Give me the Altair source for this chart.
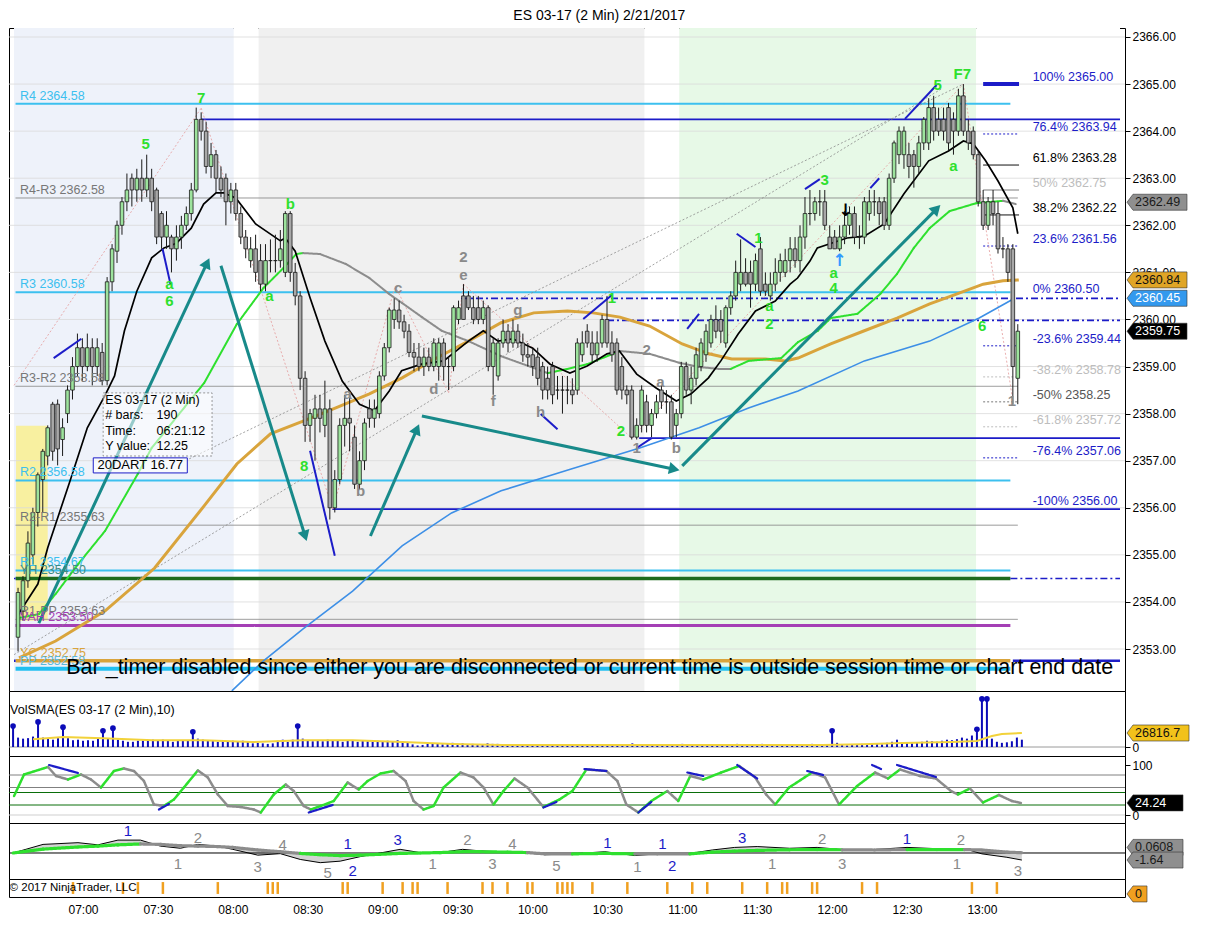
import math
import altair as alt
import pandas as pd

FONT = "Liberation Sans"
W = 1116
H_MAIN, H_VOL, H_STO, H_MACD, H_TIM = 663, 65, 67, 56, 18
X_MIN, X_MAX = 390.37, 837.3         # minutes after midnight shown
P_MIN, P_MAX = 2352.108, 2366.191

# ---------------- price bars (2 min, first bar 06:32) ----------------
FIRST_BAR = 392
BAR_STEP = 2
OPEN = [
 2353.25,2353.80,2354.45,2355.00,2355.90,2356.60,2357.10,2358.20,2358.20,2357.45,
 2358.00,2358.50,2359.00,2359.40,2359.00,2359.40,2359.00,2359.30,2358.70,2360.80,
 2361.45,2362.00,2362.50,2363.00,2362.75,2363.00,2362.75,2363.00,2362.75,2362.25,
 2361.75,2361.75,2361.50,2361.75,2362.00,2362.25,2362.75,2364.25,2364.00,2363.25,
 2363.50,2363.00,2363.00,2362.50,2362.75,2362.25,2361.75,2361.25,2361.50,2361.25,
 2360.75,2361.25,2361.25,2361.25,2361.00,2362.25,2361.00,2360.50,2358.75,2357.75,
 2357.90,2358.10,2357.75,2358.10,2356.00,2356.60,2357.75,2357.90,2357.50,2356.50,
 2357.00,2358.10,2357.90,2358.00,2358.80,2359.40,2360.00,2360.20,2359.95,2359.75,
 2359.30,2359.20,2359.00,2359.20,2359.00,2359.00,2359.50,2359.00,2359.00,2360.00,
 2360.50,2360.50,2360.25,2360.25,2360.00,2360.25,2359.00,2358.80,2359.50,2359.75,
 2359.50,2359.75,2359.50,2359.25,2359.25,2359.20,2359.00,2358.75,2359.00,2358.50,
 2358.50,2358.50,2358.50,2358.50,2359.25,2359.75,2359.50,2359.25,2359.50,2360.00,
 2359.50,2359.50,2359.00,2358.50,2358.50,2357.50,2357.75,2358.25,2357.75,2358.00,
 2358.50,2358.25,2358.25,2357.75,2358.00,2359.00,2358.50,2358.75,2359.00,2359.25,
 2359.50,2360.00,2360.00,2359.50,2360.25,2360.50,2360.75,2361.00,2361.00,2360.75,
 2361.50,2360.75,2360.50,2360.75,2361.00,2361.00,2361.25,2361.50,2361.25,2361.75,
 2362.25,2362.25,2362.50,2362.50,2361.75,2361.75,2361.50,2361.75,2362.00,2362.25,
 2361.75,2361.75,2362.25,2362.50,2362.50,2362.50,2362.00,2363.00,2363.50,2363.50,
 2363.50,2363.50,2363.25,2363.75,2363.75,2364.50,2364.25,2364.25,2364.50,2364.25,
 2364.00,2364.75,2364.00,2364.00,2363.50,2362.50,2362.00,2362.50,2362.25,2361.50,
 2361.50,2361.50,2358.75]
HIGH = [
 2354.30,2354.55,2355.50,2356.00,2356.75,2357.25,2357.75,2358.25,2358.30,2357.90,
 2358.60,2359.20,2359.70,2359.60,2359.70,2359.60,2359.60,2359.50,2360.90,2361.60,
 2362.10,2362.60,2363.10,2363.10,2363.20,2363.40,2363.50,2363.20,2362.80,2362.30,
 2362.30,2361.80,2362.00,2362.20,2362.40,2362.90,2364.50,2364.40,2364.20,2363.75,
 2363.60,2363.25,2363.10,2362.90,2362.90,2362.40,2361.90,2361.75,2361.80,2361.60,
 2361.60,2361.70,2361.80,2361.90,2362.30,2362.30,2361.20,2360.60,2358.90,2358.10,
 2358.40,2358.40,2358.70,2358.30,2356.80,2357.90,2358.40,2358.50,2357.75,2357.20,
 2357.90,2358.30,2358.30,2358.90,2359.50,2360.25,2360.45,2360.40,2360.10,2359.90,
 2359.50,2359.50,2359.40,2359.40,2359.60,2359.60,2359.60,2359.20,2360.30,2360.40,
 2360.75,2360.60,2360.50,2360.50,2360.40,2360.30,2359.60,2359.60,2360.00,2359.90,
 2360.00,2359.90,2359.70,2359.50,2359.40,2359.40,2359.10,2359.00,2359.10,2358.80,
 2358.80,2358.80,2358.75,2359.60,2359.75,2359.90,2359.75,2359.75,2360.10,2360.50,
 2359.75,2359.60,2359.20,2358.60,2358.60,2357.90,2358.60,2358.40,2358.10,2358.40,
 2358.60,2358.50,2358.40,2358.10,2359.10,2359.10,2359.00,2359.40,2359.60,2359.90,
 2360.10,2360.30,2360.20,2360.30,2360.60,2361.25,2361.70,2361.30,2361.25,2361.40,
 2361.75,2361.00,2361.00,2361.30,2361.40,2361.50,2361.75,2361.75,2362.00,2362.60,
 2362.75,2362.60,2362.75,2362.75,2362.00,2361.90,2362.00,2362.30,2362.40,2362.40,
 2362.00,2362.60,2362.75,2362.75,2362.60,2362.60,2363.10,2363.80,2364.10,2364.10,
 2363.75,2363.60,2363.90,2364.30,2364.70,2364.75,2364.50,2364.50,2364.60,2364.40,
 2364.90,2365.00,2364.25,2364.10,2363.60,2362.75,2362.60,2362.75,2362.50,2361.75,
 2361.60,2361.60,2359.90]
LOW = [
 2352.95,2353.60,2354.30,2354.80,2355.60,2355.90,2356.90,2357.00,2356.90,2357.10,
 2357.80,2358.30,2358.80,2358.70,2358.90,2358.60,2358.80,2358.60,2358.60,2360.60,
 2361.20,2361.80,2362.30,2362.40,2362.50,2362.50,2362.60,2362.30,2361.60,2361.50,
 2361.50,2361.00,2361.25,2361.50,2361.90,2362.10,2362.70,2363.80,2363.10,2363.00,
 2362.70,2362.60,2362.00,2362.25,2362.10,2361.60,2361.30,2361.10,2360.80,2360.60,
 2360.60,2361.00,2361.00,2361.10,2360.90,2360.80,2360.30,2358.50,2357.40,2357.40,
 2357.00,2357.60,2357.50,2355.75,2355.90,2356.50,2357.30,2357.20,2356.40,2356.40,
 2356.80,2357.70,2357.70,2357.90,2358.70,2359.30,2359.80,2359.80,2359.60,2359.20,
 2358.90,2358.90,2358.80,2358.90,2358.90,2358.70,2358.70,2358.50,2358.90,2359.90,
 2360.00,2360.20,2359.90,2359.90,2359.90,2358.90,2358.40,2358.70,2359.40,2359.30,
 2359.40,2359.40,2359.10,2359.00,2358.80,2358.60,2358.30,2358.30,2358.20,2358.30,
 2358.00,2358.20,2358.20,2358.40,2359.10,2359.40,2359.10,2359.10,2359.40,2359.40,
 2359.10,2358.40,2358.30,2358.20,2357.45,2357.45,2357.60,2357.60,2357.50,2357.90,
 2358.10,2358.00,2357.45,2357.50,2357.90,2358.40,2358.20,2358.60,2358.90,2359.10,
 2359.40,2359.60,2359.50,2359.40,2360.10,2360.40,2360.60,2360.70,2360.25,2360.60,
 2360.50,2360.50,2360.40,2360.60,2360.80,2360.90,2361.00,2361.10,2361.00,2361.50,
 2362.00,2362.10,2362.20,2361.90,2361.50,2361.50,2361.45,2361.60,2361.80,2361.60,
 2361.50,2361.60,2362.10,2362.20,2362.00,2361.90,2361.90,2362.90,2363.30,2363.20,
 2363.00,2362.80,2363.10,2363.60,2363.60,2363.80,2363.90,2363.80,2363.60,2363.50,
 2363.90,2363.90,2363.60,2363.40,2362.40,2361.90,2361.90,2362.00,2361.40,2361.30,
 2360.80,2358.20,2358.20]
CLOSE = [
 2354.20,2354.45,2355.25,2355.90,2356.70,2357.20,2357.70,2357.20,2357.25,2357.70,
 2358.50,2359.00,2359.40,2359.00,2359.40,2359.00,2359.40,2358.70,2360.80,2361.50,
 2362.00,2362.50,2362.75,2362.75,2363.00,2362.75,2363.00,2362.50,2361.75,2361.75,
 2362.00,2361.50,2361.75,2362.00,2362.25,2362.75,2364.25,2364.00,2363.25,2363.50,
 2363.00,2362.75,2362.50,2362.75,2362.25,2361.75,2361.50,2361.50,2361.00,2360.75,
 2361.25,2361.25,2361.25,2361.50,2362.25,2361.00,2360.50,2358.75,2357.75,2358.00,
 2358.10,2357.90,2358.10,2356.00,2356.60,2357.75,2357.90,2357.80,2356.50,2357.00,
 2357.80,2357.90,2358.10,2358.80,2359.40,2360.20,2360.20,2359.95,2359.75,2359.30,
 2359.20,2359.00,2359.20,2359.00,2359.50,2359.50,2359.00,2359.00,2360.25,2360.25,
 2360.00,2360.25,2360.00,2360.00,2360.25,2359.00,2359.50,2359.50,2359.75,2359.50,
 2359.75,2359.50,2359.25,2359.20,2359.00,2358.75,2358.50,2358.50,2358.40,2358.50,
 2358.50,2358.50,2358.40,2359.50,2359.50,2359.50,2359.25,2359.50,2360.00,2359.50,
 2359.25,2358.50,2358.50,2358.40,2357.50,2357.75,2358.50,2357.75,2358.00,2358.25,
 2358.25,2358.25,2357.50,2358.00,2359.00,2358.50,2358.75,2359.25,2359.50,2359.75,
 2360.00,2359.75,2359.75,2360.25,2360.50,2361.00,2361.00,2360.75,2360.75,2361.25,
 2360.60,2360.60,2360.75,2361.00,2361.25,2361.25,2361.50,2361.25,2361.75,2362.25,
 2362.25,2362.50,2362.50,2362.00,2361.50,2361.50,2361.75,2362.00,2362.25,2361.75,
 2361.75,2362.50,2362.50,2362.50,2362.25,2362.00,2363.00,2363.75,2364.00,2364.00,
 2363.25,2363.25,2363.75,2364.25,2364.50,2364.00,2364.00,2364.00,2363.75,2364.00,
 2364.75,2364.00,2363.75,2363.50,2362.50,2362.00,2362.50,2362.25,2361.50,2361.50,
 2361.00,2359.00,2359.75]
VOLUME_K = [
 40,18,16,17,20,48,18,16,14,17, 38,17,13,14,12,13,12,16,31,17,
 36,14,12,10,10,12,12,13,14,12, 14,12,10,12,13,12,29,16,14,12,
 12,10,12,11,12,10,12,10,7,8,   7,6,7,12,14,10,14,40,16,12,
 11,12,11,14,12,13,10,12,13,10, 12,11,10,12,11,12,10,13,11,9,
 5,3,4,6,7,6,5,6,8,6,           7,5,6,5,4,7,6,6,5,4,
 5,4,4,5,4,5,4,3,5,4,           3,4,3,5,4,4,3,4,5,4,
 4,5,3,4,7,4,5,4,3,4,           3,4,5,4,6,4,5,4,5,4,
 5,3,4,5,4,6,5,4,3,4,           6,4,3,4,5,4,5,3,4,5,
 6,4,4,5,31,8,4,3,4,5,          6,5,7,6,5,8,10,14,9,8,
 7,9,10,12,11,10,12,14,13,15,   18,16,22,34,92,92,16,10,8,9,
 11,18,14]
VOL_DOT_BARS = [0, 5, 10, 18, 20, 36, 57, 164, 193, 194, 195]
VSMA_T = [400, 412, 428, 448, 468, 488, 508, 528, 548, 568, 588, 628, 668, 688, 716, 732, 748, 768, 778, 784, 788, 796]
VSMA_V = [15, 19, 17, 13, 13, 9.5, 13, 13, 9.5, 6, 4, 4, 4, 4, 4, 5.5, 7.6, 9.5, 11.5, 21, 25, 26.8]

# ---------------- moving averages on the price panel ----------------
EMA_T = [392, 393, 400, 404, 413, 420, 427, 431, 435, 440, 446, 451, 456, 462, 467, 472, 475, 480, 488,
         498, 500, 504, 510, 516, 523, 530, 536, 542, 547, 555, 564, 574, 580, 586, 592, 600, 607, 615,
         622, 630, 635, 642, 650, 658, 664, 671, 676, 683, 690, 698, 704, 707, 712, 715, 727, 734, 742,
         750, 760, 768, 774, 778, 783, 788, 794, 796]
EMA_P = [2353.70, 2353.81, 2354.38, 2355.15, 2356.57, 2357.70, 2358.37, 2358.80, 2359.76, 2360.60,
         2361.31, 2361.52, 2361.62, 2361.94, 2362.45, 2362.69, 2362.69, 2362.58, 2362.03, 2361.67,
         2361.73, 2361.45, 2360.46, 2359.54, 2358.69, 2358.20, 2358.06, 2358.48, 2358.91, 2359.05,
         2359.12, 2359.54, 2359.76, 2359.54, 2359.59, 2359.39, 2359.05, 2358.86, 2359.01, 2359.27,
         2359.33, 2358.84, 2358.54, 2358.27, 2358.42, 2358.76, 2359.12, 2359.69, 2360.18, 2360.39,
         2360.75, 2360.88, 2361.24, 2361.52, 2361.73, 2361.77, 2362.03, 2362.67, 2363.37, 2363.58,
         2363.79, 2363.73, 2363.37, 2362.94, 2362.37, 2361.82]
SMA_T = [392.4, 400.4, 407.2, 416.4, 427.2, 440.4, 446.0, 467.2, 480.4, 491.2, 499.2, 504.4, 507.2,
         514.0, 524.4, 534.0, 542.0, 547.2, 555.2, 563.2, 574.0, 587.2, 600.4, 606.0, 614.0, 622.0,
         635.2, 647.2, 659.2, 667.2, 675.2, 680.0, 687.2, 700.4, 707.2, 715.2, 720.4, 731.2, 740.4,
         747.2, 754.0, 760.4, 768.4, 779.2, 790.0, 795.2]
SMA_P = [2353.66, 2353.74, 2354.17, 2354.81, 2355.51, 2356.72, 2357.27, 2358.65, 2359.90, 2360.67,
         2361.09, 2361.39, 2361.41, 2361.39, 2361.18, 2360.88, 2360.54, 2360.35, 2360.05, 2359.76,
         2359.54, 2359.22, 2358.97, 2358.86, 2358.95, 2359.05, 2359.33, 2359.27, 2359.08, 2358.99,
         2358.95, 2358.95, 2359.12, 2359.18, 2359.52, 2359.76, 2360.03, 2360.12, 2360.54, 2360.97,
         2361.52, 2361.94, 2362.30, 2362.47, 2362.52, 2362.45]
GOLD_T = [392.4, 407.2, 427.2, 447.2, 467.2, 480.4, 494.0, 507.2, 520.4, 534.0, 547.2, 560.4, 574.0,
          587.2, 600.4, 614.0, 624.4, 635.2, 647.2, 660.4, 671.2, 680.4, 694.0, 702.0, 707.2, 720.4,
          734.0, 747.2, 760.4, 771.2, 782.0, 790.0, 796.4]
GOLD_P = [2352.81, 2353.17, 2353.81, 2354.72, 2356.04, 2356.93, 2357.57, 2357.84, 2358.12, 2358.42,
          2358.76, 2359.16, 2359.54, 2359.93, 2360.14, 2360.18, 2360.14, 2360.05, 2359.86, 2359.48,
          2359.27, 2359.16, 2359.16, 2359.12, 2359.18, 2359.48, 2359.76, 2360.03, 2360.33, 2360.54,
          2360.75, 2360.82, 2360.84]
BLUE_T = [478.4, 491.2, 507.2, 527.2, 547.2, 567.2, 587.2, 615.2, 643.2, 667.2, 687.2, 707.2, 734.0, 760.4, 780.4, 794.0]
BLUE_P = [2352.11, 2352.75, 2353.43, 2354.23, 2355.19, 2355.89, 2356.36, 2356.82, 2357.27, 2357.70,
          2358.12, 2358.48, 2359.12, 2359.54, 2360.03, 2360.43]

# ---------------- levels ----------------
PIVOT_NAMES = ["R4", "R4-R3", "R3", "R3-R2", "R2", "R2-R1", "R1", "YH", "R1-PP", "VAH", "YC", "PP"]
PIVOT_VALS = [2364.58, 2362.58, 2360.58, 2358.58, 2356.58, 2355.63, 2354.67, 2354.50, 2353.63, 2353.50, 2352.75, 2352.58]
PIVOT_KIND = ["R", "M", "R", "M", "R", "M", "R", "YH", "M", "VAH", "YC", "PP"]
SWING_P = [2364.25, 2357.48, 2355.97]
SWING_T = [466.0, 643.0, 519.0]
DASHDOT_P = [2360.45, 2359.98]
DASHDOT_T = [571.0, 630.0]
FIB_PCT = ["100%", "76.4%", "61.8%", "50%", "38.2%", "23.6%", "0%", "-23.6%", "-38.2%", "-50%", "-61.8%", "-76.4%", "-100%"]
FIB_P = [2365.00, 2363.94, 2363.28, 2362.75, 2362.22, 2361.56, 2360.50, 2359.44, 2358.78, 2358.25, 2357.72, 2357.06, 2356.00]

# ---------------- drawings ----------------
AR_T0 = [400.4, 474.0, 534.4, 555.2, 660.4]
AR_P0 = [2353.55, 2361.14, 2355.40, 2357.95, 2356.89]
AR_T1 = [468.4, 508.0, 553.2, 657.2, 763.2]
AR_P1 = [2361.20, 2355.40, 2357.67, 2356.82, 2362.35]
NV_T0 = [406.4, 450.4, 510.0, 603.2, 620.4, 642.0, 662.4, 682.4, 710.0, 736.4, 750.4]
NV_P0 = [2359.18, 2361.50, 2357.21, 2357.99, 2360.01, 2357.27, 2359.80, 2361.82, 2362.77, 2362.79, 2364.26]
NV_T1 = [417.6, 453.6, 520.0, 610.0, 632.0, 648.0, 667.2, 690.0, 716.0, 740.0, 763.2]
NV_P1 = [2359.59, 2360.75, 2354.98, 2357.67, 2360.52, 2357.48, 2360.12, 2361.54, 2362.98, 2363.00, 2364.98]
ZZ_T = [390.4, 466.0, 519.2, 544.4, 566.0, 572.0, 640.0, 774.0, 794.0]
ZZ_P = [2358.60, 2364.49, 2355.97, 2360.71, 2358.44, 2360.75, 2357.48, 2365.00, 2358.27]
CH_T0 = [461.2, 390.4]
CH_P0 = [2357.04, 2352.88]
CH_T1 = [774.0, 765.2]
CH_P1 = [2365.00, 2364.90]

GREEN_TXT = ["5", "7", "a", "6", "b", "a", "8", "2", "1", "1", "a", "2", "3", "a", "4", "5", "F7", "a", "6"]
GREEN_T = [443.6, 466.0, 453.2, 453.2, 502.0, 493.6, 507.6, 635.6, 632.0, 691.2, 695.6, 695.6, 718.0,
           721.6, 721.6, 763.6, 773.6, 770.0, 781.6]
GREEN_P = [2363.73, 2364.70, 2360.75, 2360.39, 2362.45, 2360.50, 2356.89, 2357.63, 2360.46, 2361.73,
           2360.29, 2359.90, 2362.96, 2360.99, 2360.67, 2364.98, 2365.21, 2363.26, 2359.86]
GRAY_TXT = ["2", "e", "c", "a", "b", "d", "f", "g", "h", "2", "a", "1", "b", "1"]
GRAY_T = [572.0, 572.0, 545.6, 525.2, 530.4, 560.0, 584.0, 594.0, 603.2, 646.0, 651.6, 642.0, 658.0, 793.6]
GRAY_P = [2361.33, 2360.94, 2360.67, 2358.42, 2356.36, 2358.52, 2358.27, 2360.20, 2358.03, 2359.35,
          2358.67, 2357.27, 2357.27, 2358.27]

MAIN_TAG_P = [2362.49, 2360.84, 2360.45, 2359.75]

# ---------------- oscillators ----------------
STO_T = [392.4, 396.4, 406.0, 409.2, 414.0, 419.2, 423.2, 427.2, 432.4, 436.4,
         440.4, 444.4, 448.4, 452.4, 456.4, 460.4, 466.0, 470.0, 474.0, 478.0,
         483.2, 488.4, 491.2, 496.4, 501.2, 504.4, 508.4, 511.2, 515.2, 520.4,
         526.0, 530.4, 534.0, 539.2, 544.4, 549.2, 552.4, 556.4, 560.4, 564.4,
         571.2, 576.4, 580.4, 584.4, 588.4, 592.8, 598.0, 604.4, 610.8, 616.0,
         621.6, 629.6, 634.0, 637.6, 642.4, 647.6, 654.0, 658.4, 663.2, 668.4,
         675.6, 682.8, 689.2, 693.6, 697.2, 702.8, 712.0, 717.2, 722.8, 730.0,
         737.2, 742.4, 747.2, 755.2, 761.6, 767.6, 770.4, 775.2, 780.4, 786.8,
         792.0, 795.6]
STO_V = [38, 81, 96, 78, 71, 81, 71, 55, 88, 93,
         88, 68, 21, 18, 31, 55, 89, 75, 41, 18,
         16, 11, 5, 41, 61, 48, 18, 11, 18, 28,
         65, 51, 68, 83, 88, 68, 28, 11, 18, 55,
         85, 75, 55, 21, 48, 73, 55, 16, 31, 48,
         91, 88, 68, 21, 5, 28, 48, 28, 78, 71,
         85, 98, 75, 41, 21, 55, 85, 75, 21, 58,
         85, 73, 91, 78, 73, 48, 41, 53, 25, 40,
         28, 24]
STO_LEVELS = [80, 55, 45, 20, 0]
SD_T0 = [406.4, 450.4, 510.4, 604.4, 620.8, 642.4, 662.0, 682.0, 710.0, 736.0, 746.0]
SD_V0 = [100, 11, 5, 15, 92, 5, 85, 100, 88, 100, 100]
SD_T1 = [418.0, 454.4, 520.0, 609.6, 629.6, 647.6, 668.4, 690.0, 716.4, 739.6, 761.6]
SD_V1 = [84, 22, 20, 26, 88, 26, 78, 73, 80, 92, 76]

MACD_T = [392, 404, 418, 426, 434, 443, 451, 459, 466, 474, 480, 490, 499, 507, 515, 523, 531, 539, 547, 555,
          563, 572, 579, 590, 598, 605, 616, 629, 641, 650, 663, 672, 681, 690, 703, 714, 724, 737, 750, 762,
          773, 780, 790, 796]
MACD_V = [0, 2.0, 2.4, 1.9, 3.0, 3.0, 1.6, 1.1, 2.0, 1.6, 0.85, -0.5, -0.15, -1.5, -2.25, -1.9, -0.85, 0, 0.85, 0.1,
          0.1, 0.85, 0.5, 0.2, 0, -0.4, -0.2, 0.3, -0.6, -0.2, -0.1, 0.7, 1.3, 1.5, 1.1, 1.3, 0.8, 0.8, 1.3, 1.0,
          1.0, -0.2, -1.0, -1.64]
SIGNAL_V = [0, 0.9, 1.4, 1.6, 1.9, 2.1, 2.0, 1.7, 1.6, 1.5, 1.3, 0.7, 0.3, -0.1, -0.4, -0.6, -0.5, -0.3, -0.1, 0,
            0.1, 0.3, 0.3, 0.2, 0.1, -0.2, -0.2, -0.1, -0.2, -0.2, -0.2, 0.2, 0.45, 0.6, 0.75, 0.8, 0.75, 0.7, 0.8, 0.8,
            0.8, 0.7, 0.2, 0.06]
SIGNAL_STATE = "gggggkkkkkkkkgggggggggggkkggkkggggggkkggkkk"
MACD_LBL = ["1", "2", "1", "3", "4", "5", "1", "2", "3", "1", "2", "3", "4", "5", "1", "1", "1", "2", "3", "1",
            "2", "3", "1", "2", "1", "3"]
MACD_LBL_T = [438, 466, 458, 490, 500, 518, 526, 528, 546, 560, 574, 584, 592, 609.6, 630, 642, 652, 656, 684,
              696, 716, 724, 750, 771.6, 770, 794.4]
MACD_LBL_V = [5.1, 3.5, -2.55, -3.25, 1.85, -4.65, 2.1, -4.2, 3.0, -2.55, 3.0, -2.55, 2.1, -3.0, 2.3, -3.25,
              2.1, -3.0, 3.5, -2.55, 3.25, -2.55, 3.25, 3.0, -2.55, -4.2]
MACD_LBL_BLUE = [1, 0, 0, 0, 0, 0, 1, 1, 1, 0, 0, 0, 0, 0, 1, 0, 1, 1, 1, 0, 0, 0, 1, 0, 0, 0]

TIMER_BARS = [12, 22, 25, 30, 41, 51, 52, 53, 66, 67, 74, 78, 80, 81, 87, 94, 96, 99, 103, 104, 109, 110,
              111, 112, 116, 123, 131, 136, 139, 146, 151, 154, 155, 160, 161, 170, 173, 192, 197]

# ======================================================================
XS = alt.Scale(domain=[X_MIN, X_MAX], nice=False, zero=False)
PY = alt.Scale(domain=[P_MIN, P_MAX], nice=False, zero=False)
VY = alt.Scale(domain=[-17.2, 107.2], nice=False, zero=False)
SY = alt.Scale(domain=[-16, 118], nice=False, zero=False)
MY = alt.Scale(domain=[-6.05, 6.98], nice=False, zero=False)
TY = alt.Scale(domain=[0, 1], nice=False, zero=False)


def right_axis(values, fmt):
    return alt.Axis(orient="right", values=values, format=fmt, tickSize=5, tickColor="#000000",
                    labelFontSize=12, labelFont=FONT, labelColor="#000000", labelPadding=2,
                    domain=False, grid=False, title=None, labelOverlap=False)


AX_MAIN = right_axis(list(range(2353, 2367)), ".2f")
AX_VOL = right_axis([0], "d")
AX_STO = right_axis([0, 100], "d")


def xq(f):
    return alt.X(f"{f}:Q", scale=XS, axis=None)


def yq(f, sc, ax):
    return alt.Y(f"{f}:Q", scale=sc, axis=ax)


def ym(f):
    return yq(f, PY, AX_MAIN)


DASH = alt.Scale(domain=["s", "dot", "dd"], range=[[1, 0], [2, 2], [7, 3, 2, 3]])


def seg_layer(df, sc, ax, cap="butt"):
    return alt.Chart(df).mark_rule(strokeCap=cap).encode(
        x=xq("t0"), x2="t1:Q", y=yq("p0", sc, ax), y2="p1:Q",
        color=alt.Color("c:N", scale=None),
        strokeWidth=alt.StrokeWidth("w:Q", scale=None),
        strokeDash=alt.StrokeDash("d:N", scale=DASH, legend=None))


def tag_path(width):
    hh = 16.0 / width
    s = -1 + 12.0 / width
    return f"M-1,0L{s:.4f},{-hh:.4f}L1,{-hh:.4f}L1,{hh:.4f}L{s:.4f},{hh:.4f}Z"


def tag_layers(df, width, sc, ax):
    sym = alt.Chart(df).mark_point(shape=tag_path(width), size=width * width, filled=True, opacity=1,
                                   stroke="#333333", strokeWidth=0.6).encode(
        x=alt.value(W + 2 + width / 2), y=yq("p", sc, ax), fill=alt.Fill("bg:N", scale=None))
    txt = alt.Chart(df).mark_text(align="left", baseline="middle", fontSize=12.5, font=FONT).encode(
        x=alt.value(W + 10), y=yq("p", sc, ax), text="label:N", color=alt.Color("fg:N", scale=None))
    return [sym, txt]


# ---------------- main panel ----------------
n = len(CLOSE)
bars = pd.DataFrame({"t": [FIRST_BAR + BAR_STEP * i for i in range(n)],
                     "o": OPEN, "h": HIGH, "l": LOW, "c": CLOSE})
bars["fill"] = ["#9de39d" if c > o else "#a8a8a8" for o, c in zip(OPEN, CLOSE)]

bands = pd.DataFrame({"t0": [X_MIN, 479.2, 489.2, 645.2, 659.2, 779.2],
                      "t1": [479.2, 489.2, 645.2, 659.2, 779.2, X_MAX],
                      "col": ["#eef2fa", "#ffffff", "#f0f0f0", "#ffffff", "#e7f9e7", "#ffffff"]})
L = []
L.append(alt.Chart(bands).mark_rect().encode(x=xq("t0"), x2="t1:Q", color=alt.Color("col:N", scale=None)))
L.append(alt.Chart(pd.DataFrame({"t0": [391.2], "t1": [404.0], "p0": [2353.6], "p1": [2357.74]}))
         .mark_rect(color="#f8f0a0").encode(x=xq("t0"), x2="t1:Q", y=ym("p0"), y2="p1:Q"))
L.append(alt.Chart(pd.DataFrame({"p": list(range(2353, 2367))}))
         .mark_rule(color="#d9d9d9", strokeWidth=0.8).encode(y=ym("p")))

# horizontal levels
kind_style = {"R": ("#3cc0ef", 2.0), "M": ("#8a8a8a", 1.0), "YH": ("#1d6b1d", 3.5),
              "VAH": ("#a43fb5", 3.0), "YC": ("#d9a43c", 3.5), "PP": ("#22bff0", 4.0)}
lv = []
for p, k in zip(PIVOT_VALS, PIVOT_KIND):
    c, w = kind_style[k]
    lv.append(dict(t0=391.0, t1=793.0 if k != "M" else 796.0, p0=p, p1=p, c=c, w=w, d="s"))
lv.append(dict(t0=X_MIN, t1=391.0, p0=2354.50, p1=2354.50, c="#1c1cc8", w=1.5, d="dd"))
lv.append(dict(t0=793.0, t1=X_MAX, p0=2354.50, p1=2354.50, c="#1c1cc8", w=1.5, d="dd"))
lv.append(dict(t0=X_MIN, t1=391.0, p0=2352.75, p1=2352.75, c="#1c1cc8", w=2.5, d="s"))
lv.append(dict(t0=794.0, t1=X_MAX, p0=2352.75, p1=2352.75, c="#1c1cc8", w=2.5, d="s"))
for p, t in zip(SWING_P, SWING_T):
    lv.append(dict(t0=t, t1=X_MAX, p0=p, p1=p, c="#1c1cc8", w=1.8, d="s"))
for p, t in zip(DASHDOT_P, DASHDOT_T):
    lv.append(dict(t0=t, t1=X_MAX, p0=p, p1=p, c="#1c1cc8", w=1.8, d="dd"))
fib_style = {"100%": ("#1c1cc8", 4, "s"), "76.4%": ("#1c1cc8", 1, "dot"), "61.8%": ("#000000", 1, "s"),
             "50%": ("#bdbdbd", 2, "s"), "38.2%": ("#000000", 1, "s"), "23.6%": ("#1c1cc8", 1, "dot"),
             "-23.6%": ("#1c1cc8", 1, "dot"), "-38.2%": ("#bdbdbd", 1, "dot"), "-50%": ("#777777", 1, "dot"),
             "-61.8%": ("#bdbdbd", 1, "dot"), "-76.4%": ("#1c1cc8", 1, "dot")}
for pct, p in zip(FIB_PCT, FIB_P):
    if pct in fib_style:
        c, w, d = fib_style[pct]
        lv.append(dict(t0=782.0, t1=796.5, p0=p, p1=p, c=c, w=w, d=d))
L.append(seg_layer(pd.DataFrame(lv), PY, AX_MAIN))

# dotted channel / zigzag lines
dg = []
for a, b, c2, d2 in zip(CH_T0, CH_P0, CH_T1, CH_P1):
    dg.append(dict(t0=a, p0=b, t1=c2, p1=d2, c="#8a8a8a", w=0.8, d="dot"))
for k in range(len(ZZ_T) - 1):
    dg.append(dict(t0=ZZ_T[k], p0=ZZ_P[k], t1=ZZ_T[k + 1], p1=ZZ_P[k + 1], c="#e59a9a", w=0.8, d="dot"))
L.append(seg_layer(pd.DataFrame(dg), PY, AX_MAIN))

# moving averages
L.append(alt.Chart(pd.DataFrame({"t": GOLD_T, "p": GOLD_P})).mark_line(color="#d9a43c", strokeWidth=3, clip=True)
         .encode(x=xq("t"), y=ym("p")))
L.append(alt.Chart(pd.DataFrame({"t": BLUE_T, "p": BLUE_P})).mark_line(color="#3d8fe6", strokeWidth=1.6, clip=True)
         .encode(x=xq("t"), y=ym("p")))
sma_seg = []
for k in range(len(SMA_T) - 1):
    up = SMA_P[k + 1] > SMA_P[k]
    sma_seg.append(dict(t0=SMA_T[k], p0=SMA_P[k], t1=SMA_T[k + 1], p1=SMA_P[k + 1],
                        c="#2ee02e" if up else "#8c8c8c", w=2.0, d="s"))
L.append(seg_layer(pd.DataFrame(sma_seg), PY, AX_MAIN, cap="round"))
L.append(alt.Chart(pd.DataFrame({"t": EMA_T, "p": EMA_P})).mark_line(color="#000000", strokeWidth=1.7)
         .encode(x=xq("t"), y=ym("p")))

# candles
L.append(alt.Chart(bars).mark_rule(color="#1a1a1a", strokeWidth=1).encode(x=xq("t"), y=ym("l"), y2="h:Q"))
L.append(alt.Chart(bars).mark_bar(size=3.6, stroke="#1a1a1a", strokeWidth=0.8)
         .encode(x=xq("t"), y=ym("o"), y2="c:Q", fill=alt.Fill("fill:N", scale=None)))

# teal arrows
ppm = W / (X_MAX - X_MIN)
ppp = H_MAIN / (P_MAX - P_MIN)
arr = pd.DataFrame({"t0": AR_T0, "p0": AR_P0, "t1": AR_T1, "p1": AR_P1})
arr["ang"] = [math.degrees(math.atan2((b - a) * ppm, (d - c) * ppp)) % 360
              for a, b, c, d in zip(AR_T0, AR_T1, AR_P0, AR_P1)]
L.append(alt.Chart(arr).mark_rule(color="#188a8a", strokeWidth=3)
         .encode(x=xq("t0"), x2="t1:Q", y=ym("p0"), y2="p1:Q"))
L.append(alt.Chart(arr).mark_point(shape="triangle-up", filled=True, size=150, color="#188a8a", opacity=1)
         .encode(x=xq("t1"), y=ym("p1"), angle=alt.Angle("ang:Q", scale=None)))

# navy short lines
L.append(alt.Chart(pd.DataFrame({"t0": NV_T0, "p0": NV_P0, "t1": NV_T1, "p1": NV_P1}))
         .mark_rule(color="#1c1cc8", strokeWidth=2).encode(x=xq("t0"), x2="t1:Q", y=ym("p0"), y2="p1:Q"))

# wave labels
L.append(alt.Chart(pd.DataFrame({"t": GREEN_T, "p": GREEN_P, "s": GREEN_TXT}))
         .mark_text(color="#2ee02e", fontSize=15, fontWeight="bold", font=FONT, baseline="middle")
         .encode(x=xq("t"), y=ym("p"), text="s:N"))
L.append(alt.Chart(pd.DataFrame({"t": GRAY_T, "p": GRAY_P, "s": GRAY_TXT}))
         .mark_text(color="#8a8a8a", fontSize=15, fontWeight="bold", font=FONT, baseline="middle")
         .encode(x=xq("t"), y=ym("p"), text="s:N"))
L.append(alt.Chart(pd.DataFrame({"t": [726.4], "p": [2362.30], "s": ["↓"]}))
         .mark_text(color="#000000", fontSize=17, fontWeight="bold", font="DejaVu Sans")
         .encode(x=xq("t"), y=ym("p"), text="s:N"))
L.append(alt.Chart(pd.DataFrame({"t": [724.0], "p": [2361.24], "s": ["↑"]}))
         .mark_text(color="#3399ff", fontSize=17, fontWeight="bold", font="DejaVu Sans")
         .encode(x=xq("t"), y=ym("p"), text="s:N"))

# pivot labels
lab_color = {"R": "#3cc0ef", "M": "#777777", "YH": "#3f8a80", "VAH": "#a43fb5", "YC": "#d9a43c", "PP": "#5ab8dc"}
pl = pd.DataFrame({"t": [392.8] * len(PIVOT_VALS), "p": PIVOT_VALS,
                   "s": [f"{nm} {v:.2f}" for nm, v in zip(PIVOT_NAMES, PIVOT_VALS)],
                   "c": [lab_color[k] for k in PIVOT_KIND]})
L.append(alt.Chart(pl).mark_text(align="left", baseline="middle", dy=-8, fontSize=12.5, font=FONT)
         .encode(x=xq("t"), y=ym("p"), text="s:N", color=alt.Color("c:N", scale=None)))

# fib labels
fib_lab_col = {"100%": "#1c1cc8", "76.4%": "#1c1cc8", "61.8%": "#000000", "50%": "#bdbdbd", "38.2%": "#000000",
               "23.6%": "#1c1cc8", "0%": "#1c1cc8", "-23.6%": "#1c1cc8", "-38.2%": "#bdbdbd", "-50%": "#555555",
               "-61.8%": "#bdbdbd", "-76.4%": "#1c1cc8", "-100%": "#1c1cc8"}
fl = pd.DataFrame({"t": [802.0] * len(FIB_P), "p": FIB_P,
                   "s": [f"{pc}  {v:.2f}" for pc, v in zip(FIB_PCT, FIB_P)],
                   "c": [fib_lab_col[pc] for pc in FIB_PCT]})
L.append(alt.Chart(fl).mark_text(align="left", baseline="middle", dy=-7, fontSize=12.5, font=FONT, clip=True)
         .encode(x=xq("t"), y=ym("p"), text="s:N", color=alt.Color("c:N", scale=None)))

# info boxes
L.append(alt.Chart(pd.DataFrame({"t0": [426.4], "t1": [470.4], "p0": [2357.10], "p1": [2358.44]}))
         .mark_rect(fill="#ffffff", fillOpacity=0.55, stroke="#808080", strokeWidth=0.8, strokeDash=[2, 2])
         .encode(x=xq("t0"), x2="t1:Q", y=ym("p0"), y2="p1:Q"))
info = pd.DataFrame({"t": [427.2, 427.2, 427.2, 427.2, 448.0, 448.0, 448.0],
                     "p": [2358.29, 2357.97, 2357.63, 2357.31, 2357.97, 2357.63, 2357.31],
                     "s": ["ES 03-17 (2 Min)", "# bars:", "Time:", "Y value:", "190", "06:21:12", "12.25"]})
L.append(alt.Chart(info).mark_text(align="left", baseline="middle", fontSize=12.5, font=FONT, color="#000000")
         .encode(x=xq("t"), y=ym("p"), text="s:N"))
L.append(alt.Chart(pd.DataFrame({"t0": [422.4], "t1": [460.4], "p0": [2356.74], "p1": [2357.06]}))
         .mark_rect(fill="#ffffff", fillOpacity=0.6, stroke="#1c1cc8", strokeWidth=1)
         .encode(x=xq("t0"), x2="t1:Q", y=ym("p0"), y2="p1:Q"))
L.append(alt.Chart(pd.DataFrame({"t": [441.4], "p": [2356.90], "s": ["20DART 16.77"]}))
         .mark_text(baseline="middle", fontSize=13, font=FONT, color="#000000")
         .encode(x=xq("t"), y=ym("p"), text="s:N"))
L.append(alt.Chart(pd.DataFrame({"t": [623.0], "p": [2352.60],
                                 "s": ["Bar _timer disabled since either you are disconnected or current time is outside session time or chart end date"]}))
         .mark_text(baseline="middle", fontSize=21.5, font=FONT, color="#000000")
         .encode(x=xq("t"), y=ym("p"), text="s:N"))

mt = pd.DataFrame({"p": MAIN_TAG_P, "label": [f"{v:.2f}" for v in MAIN_TAG_P],
                   "bg": ["#8f8f8f", "#e0a526", "#3399ee", "#000000"],
                   "fg": ["#1a1a1a", "#111111", "#ffffff", "#ffffff"]})
L.extend(tag_layers(mt, 60, PY, AX_MAIN))
main = alt.layer(*L).properties(width=W, height=H_MAIN)

# ---------------- volume panel ----------------
vol = pd.DataFrame({"t": [FIRST_BAR + BAR_STEP * i for i in range(len(VOLUME_K))], "v": VOLUME_K})
vol["z"] = 0.0
dots = vol.iloc[VOL_DOT_BARS]
VL = [
    alt.Chart(pd.DataFrame({"v": [0.0]})).mark_rule(color="#9a9a9a").encode(y=yq("v", VY, AX_VOL)),
    alt.Chart(vol).mark_rule(color="#0b0bb8", strokeWidth=2).encode(x=xq("t"), y=yq("z", VY, AX_VOL), y2="v:Q"),
    alt.Chart(dots).mark_circle(color="#0b0bb8", size=32, opacity=1).encode(x=xq("t"), y=yq("v", VY, AX_VOL)),
    alt.Chart(pd.DataFrame({"t": VSMA_T, "v": VSMA_V})).mark_line(color="#f2d23a", strokeWidth=2)
    .encode(x=xq("t"), y=yq("v", VY, AX_VOL)),
    alt.Chart(pd.DataFrame({"t": [390.8], "v": [70.9], "s": ["VolSMA(ES 03-17 (2 Min),10)"]}))
    .mark_text(align="left", baseline="middle", fontSize=12.5, font=FONT, color="#000000")
    .encode(x=xq("t"), y=yq("v", VY, AX_VOL), text="s:N"),
]
VL.extend(tag_layers(pd.DataFrame({"p": [26.8167], "label": ["26816.7"], "bg": ["#f2c21b"], "fg": ["#111111"]}),
                     62, VY, AX_VOL))
volp = alt.layer(*VL).properties(width=W, height=H_VOL)

# ---------------- stochastic panel ----------------
sl = pd.DataFrame({"v": STO_LEVELS, "c": ["#808080", "#808080", "#0a6e0a", "#0a6e0a", "#cfcfcf"]})
sseg = []
for k in range(len(STO_T) - 1):
    up = STO_V[k + 1] > STO_V[k]
    sseg.append(dict(t0=STO_T[k], p0=STO_V[k], t1=STO_T[k + 1], p1=STO_V[k + 1],
                     c="#2ee02e" if up else "#8c8c8c", w=2.5, d="s"))
for a, b, c2, d2 in zip(SD_T0, SD_V0, SD_T1, SD_V1):
    sseg.append(dict(t0=a, p0=b, t1=c2, p1=d2, c="#1c1cc8", w=2.2, d="s"))
SL = [
    alt.Chart(sl).mark_rule(strokeWidth=1).encode(y=yq("v", SY, AX_STO), color=alt.Color("c:N", scale=None)),
    seg_layer(pd.DataFrame(sseg), SY, AX_STO, cap="round"),
]
SL.extend(tag_layers(pd.DataFrame({"p": [24.24], "label": ["24.24"], "bg": ["#000000"], "fg": ["#ffffff"]}),
                     56, SY, AX_STO))
stop = alt.layer(*SL).properties(width=W, height=H_STO)

# ---------------- MACD panel ----------------
md = pd.DataFrame({"t": MACD_T, "m": MACD_V, "s": SIGNAL_V})
mseg = []
for k in range(len(MACD_T) - 1):
    mseg.append(dict(t0=MACD_T[k], p0=SIGNAL_V[k], t1=MACD_T[k + 1], p1=SIGNAL_V[k + 1],
                     c="#2ee02e" if SIGNAL_STATE[k] == "g" else "#8c8c8c", w=3.2, d="s"))
ml = pd.DataFrame({"t": MACD_LBL_T, "v": MACD_LBL_V, "s": MACD_LBL,
                   "c": ["#1c1cc8" if b else "#8a8a8a" for b in MACD_LBL_BLUE]})
ML = [
    alt.Chart(md).mark_area(color="#9e9e9e", opacity=0.45).encode(x=xq("t"), y=yq("m", MY, None), y2="s:Q"),
    alt.Chart(pd.DataFrame({"v": [0.0]})).mark_rule(color="#000000").encode(y=yq("v", MY, None)),
    alt.Chart(md).mark_line(color="#000000", strokeWidth=1).encode(x=xq("t"), y=yq("m", MY, None)),
    seg_layer(pd.DataFrame(mseg), MY, None, cap="round"),
    alt.Chart(ml).mark_text(baseline="middle", fontSize=15, font=FONT)
    .encode(x=xq("t"), y=yq("v", MY, None), text="s:N", color=alt.Color("c:N", scale=None)),
]
ML.extend(tag_layers(pd.DataFrame({"p": [1.3, -1.64], "label": ["0.0608", "-1.64"],
                                   "bg": ["#8f8f8f", "#8f8f8f"], "fg": ["#1a1a1a", "#1a1a1a"]}),
                     56, MY, None))
macdp = alt.layer(*ML).properties(width=W, height=H_MACD)

# ---------------- bar timer panel ----------------
AX_X = alt.Axis(values=[420, 450, 480, 510, 540, 570, 600, 630, 660, 690, 720, 750, 780],
                labelExpr="pad(floor(datum.value / 60), 2, '0', 'left') + ':' + pad(datum.value % 60, 2, '0', 'left')",
                ticks=False, labelPadding=7, labelFontSize=12, labelFont=FONT, labelColor="#000000",
                domain=False, grid=False, title=None)


def xb(f):
    return alt.X(f"{f}:Q", scale=XS, axis=AX_X)


tb = pd.DataFrame({"t": [FIRST_BAR + BAR_STEP * i for i in TIMER_BARS]})
tb["a"] = 0.17
tb["b"] = 0.83
TL = [
    alt.Chart(tb).mark_rule(color="#f0a020", strokeWidth=2.5).encode(x=xb("t"), y=yq("a", TY, None), y2="b:Q"),
    alt.Chart(pd.DataFrame({"t": [390.6], "v": [0.5], "s": ["© 2017 NinjaTrader, LLC"]}))
    .mark_text(align="left", baseline="middle", fontSize=11.5, font=FONT, color="#000000")
    .encode(x=xb("t"), y=yq("v", TY, None), text="s:N"),
]
TL.extend(tag_layers(pd.DataFrame({"p": [0.17], "label": ["0"], "bg": ["#f0a020"], "fg": ["#111111"]}),
                     20, TY, None))
timp = alt.layer(*TL).properties(width=W, height=H_TIM)

chart = alt.vconcat(main, volp, stop, macdp, timp, spacing=0, bounds="flush").properties(
    title=alt.TitleParams("ES 03-17 (2 Min)  2/21/2017", font=FONT, fontSize=14, fontWeight="normal",
                          anchor="middle", frame="bounds", offset=5, color="#000000"),
    padding={"left": 0, "right": 0, "top": 0, "bottom": 0},
    background="#ffffff",
).configure_view(stroke="#000000", strokeWidth=1)

chart.save("out.html", embed_options={"renderer": "svg", "actions": False})
